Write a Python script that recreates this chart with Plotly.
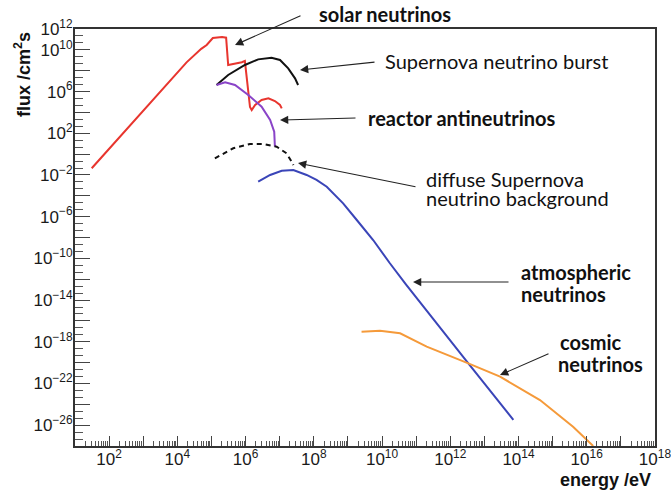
import plotly.graph_objects as go

# Neutrino flux spectra: log10(energy / eV) and log10(flux / cm^2 s)
solar_log_e = [1.49, 2.71, 3.5, 4.27, 4.7, 4.86, 5.04, 5.31, 5.43, 5.49, 5.89, 5.98,
               6.13, 6.18, 6.28, 6.47, 6.67, 6.86, 7.01, 7.06]
solar_log_flux = [-1.36, 3.1, 5.9, 8.8, 10.1, 10.47, 11.14, 11.23, 11.17, 8.55, 8.81, 8.93,
                  4.52, 4.23, 4.71, 5.19, 5.35, 5.09, 4.71, 4.39]

burst_log_e = [5.15, 5.49, 5.98, 6.37, 6.76, 7.01, 7.25, 7.45, 7.54]
burst_log_flux = [6.63, 7.59, 8.55, 9.09, 9.25, 9.03, 8.23, 7.27, 6.63]

reactor_log_e = [5.15, 5.40, 5.69, 6.08, 6.47, 6.72, 6.84, 6.86]
reactor_log_flux = [6.63, 6.89, 6.63, 5.67, 4.55, 3.27, 2.15, 0.71]

dsnb_log_e = [5.10, 5.64, 6.13, 6.52, 6.91, 7.20, 7.38, 7.40]
dsnb_log_flux = [-0.41, 0.56, 0.97, 0.97, 0.71, 0.08, -0.88, -1.05]

atmo_log_e = [6.37, 6.72, 7.06, 7.40, 7.79, 8.08, 8.38, 8.86, 9.26, 9.74, 10.23, 10.7,
              12.53, 13.85]
atmo_log_flux = [-2.65, -2.0, -1.59, -1.53, -2.0, -2.48, -3.13, -4.72, -6.32, -8.24, -10.47,
                 -12.5, -20.07, -25.5]

cosmic_log_e = [9.40, 9.94, 10.53, 11.31, 12.53, 13.46, 14.63, 15.60, 16.19]
cosmic_log_flux = [-17.03, -16.94, -17.19, -18.47, -20.07, -21.35, -23.59, -26.15, -28.0]

x_decades = list(range(1, 19))
y_decades = list(range(-28, 13, 2))
y_labelled = [12] + list(range(10, -27, -4))

W, H = 671, 492
L, R, T, B = 75, 16, 29, 46
PW, PH = W - L - R, H - T - B


def dom(px, py):
    """Pixel position on the page -> (x domain, y domain) fraction."""
    return (px - L) / PW, (H - B - py) / PH


def pw(a):
    return [10.0 ** v for v in a]


fig = go.Figure()
series = [
    (solar_log_e, solar_log_flux, "#e8352e", "solid", "solar"),
    (burst_log_e, burst_log_flux, "#111111", "solid", "SN burst"),
    (reactor_log_e, reactor_log_flux, "#8a44c8", "solid", "reactor"),
    (dsnb_log_e, dsnb_log_flux, "#111111", "5px,4px", "DSNB"),
    (atmo_log_e, atmo_log_flux, "#3a45b8", "solid", "atmospheric"),
    (cosmic_log_e, cosmic_log_flux, "#f59a3a", "solid", "cosmic"),
]
for xe, yf, col, dash, name in series:
    fig.add_trace(go.Scatter(x=pw(xe), y=pw(yf), mode="lines", name=name,
                             line=dict(color=col, width=2, dash=dash),
                             showlegend=False))

sup = lambda n: f"10<sup>{n}</sup>" if n >= 0 else f"10<sup>\u2212{-n}</sup>"

x_ticktext = [sup(n) if n % 2 == 0 else "" for n in x_decades]
x_minor = [k * 10.0 ** n for n in range(1, 18) for k in range(2, 10)]

y_ticktext = [sup(n) if n in y_labelled else "" for n in y_decades]
y_minor = [10.0 ** (12 - k * 2 / 3) for k in range(0, 61) if k % 3 != 0]

tick_font = dict(family="Liberation Sans, Arial, sans-serif", size=17, color="#1a1a1a")

fig.update_xaxes(type="log", range=[1, 18.002], tickmode="array", automargin=False,
                 tickvals=pw(x_decades), ticktext=x_ticktext, ticklabeloverflow="allow",
                 ticklabelstandoff=-3,
                 ticks="inside", ticklen=10, tickwidth=1, tickcolor="#444",
                 minor=dict(tickmode="array", tickvals=x_minor, ticks="inside",
                            ticklen=5, tickwidth=1, tickcolor="#555"),
                 showline=True, linecolor="#333", linewidth=2, mirror=True,
                 showgrid=False, zeroline=False, tickfont=tick_font)
fig.update_yaxes(type="log", range=[-28, 12.002], tickmode="array", automargin=False,
                 tickvals=pw(y_decades), ticktext=y_ticktext, ticklabeloverflow="allow",
                 ticklabelstandoff=-3,
                 ticks="inside", ticklen=15, tickwidth=1, tickcolor="#444",
                 minor=dict(tickmode="array", tickvals=y_minor, ticks="inside",
                            ticklen=8, tickwidth=1, tickcolor="#555"),
                 showline=True, linecolor="#333", linewidth=2, mirror=True,
                 showgrid=False, zeroline=False, tickfont=tick_font)

label_font = "Lato, 'Open Sans', sans-serif"
annotations = []

# Arrows: (head pixel, tail pixel)
arrows = [
    ((235, 45), (302, 15)),
    ((300, 70), (376, 62)),
    ((280, 120), (357, 118)),
    ((298, 163), (417, 187)),
    ((413, 282), (510, 282)),
    ((500, 375), (550, 353)),
]
for head, tail in arrows:
    hx, hy = dom(*head)
    tx, ty = dom(*tail)
    annotations.append(dict(x=hx, y=hy, ax=tx, ay=ty, xref="x domain", yref="y domain",
                            axref="x domain", ayref="y domain", text="",
                            showarrow=True, arrowhead=2, arrowsize=1.5, arrowwidth=1.1,
                            arrowcolor="#222", standoff=0, startstandoff=0))

# One annotation per text line, so the line spacing stays tight
labels = [
    ("<b>solar neutrinos</b>", 317, 14),
    ("Supernova neutrino burst", 383, 61),
    ("<b>reactor antineutrinos</b>", 366, 118),
    ("diffuse Supernova", 424, 179),
    ("neutrino background", 424, 198),
    ("<b>atmospheric</b>", 519, 272),
    ("<b>neutrinos</b>", 519, 294),
    ("<b>cosmic</b>", 558, 342),
    ("<b>neutrinos</b>", 556, 364),
]
for text, px, py in labels:
    fx, fy = dom(px, py)
    annotations.append(dict(x=fx, y=fy, xref="x domain", yref="y domain", text=text,
                            showarrow=False, xanchor="left", yanchor="middle", align="left",
                            font=dict(family=label_font, size=20, color="#111")))

title_font = dict(family="Liberation Sans, Arial, sans-serif", size=18, color="#111")
fx, fy = dom(653, 480)
annotations.append(dict(x=fx, y=fy, xref="x domain", yref="y domain",
                        text="<b>energy /eV</b>", showarrow=False,
                        xanchor="right", yanchor="middle", font=title_font))
fx, fy = dom(22, 75)
annotations.append(dict(x=fx, y=fy, xref="x domain", yref="y domain",
                        text="<b>flux /cm<sup>2</sup>s</b>", showarrow=False, textangle=-90,
                        xanchor="center", yanchor="middle", font=title_font))

fig.update_layout(width=W, height=H, margin=dict(l=L, r=R, t=T, b=B),
                  paper_bgcolor="white", plot_bgcolor="white",
                  annotations=annotations, showlegend=False)

fig.write_html("out.html")
